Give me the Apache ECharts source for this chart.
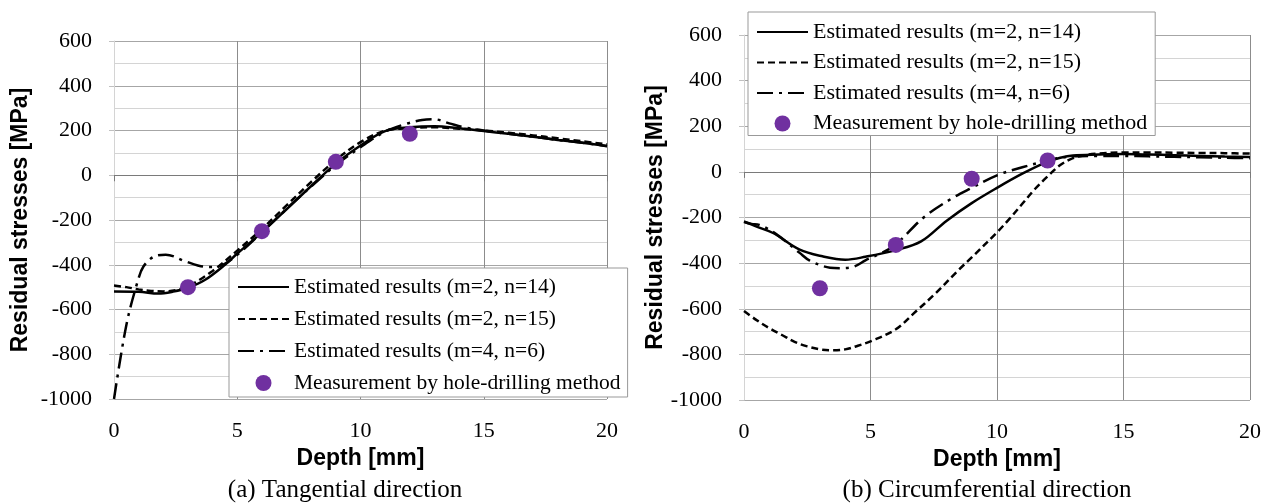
<!DOCTYPE html>
<html>
<head>
<meta charset="utf-8">
<script src="https://cdn.jsdelivr.net/npm/echarts@6/dist/echarts.min.js"></script>
<style>
  html, body { margin: 0; padding: 0; background: #fff; }
  #chart { width: 1272px; height: 503px; }
</style>
</head>
<body>
<div id="chart"></div>
<script>
// series names (legend)
const names = [
  'Estimated results (m=2, n=14)',
  'Estimated results (m=2, n=15)',
  'Estimated results (m=4, n=6)',
  'Measurement by hole-drilling method'
];

// (a) tangential direction  [depth mm, stress MPa]
const tanM2N14 = [[0,-520],[1,-521],[1.8,-529],[2.4,-520],[3,-503],[3.7,-467],[4.5,-400],[5,-350],[6,-255],[7,-152],[8,-48],[9,52],[10,133],[11,197],[12,214],[13,219],[14,210],[15,198],[16,185],[17,172],[18,158],[19,145],[20,131]];
const tanM2N15 = [[0,-493],[0.5,-500],[1,-510],[1.5,-517],[2,-519],[2.5,-514],[3,-497],[4,-428],[5,-337],[6,-240],[7,-135],[8,-30],[9,68],[10,148],[11,199],[12,211],[13,215],[14,208],[15,200],[16,190],[17,178],[18,165],[19,152],[20,138]];
const tanM4N6 = [[0,-1000],[0.5,-670],[0.95,-478],[1.2,-407],[1.65,-362],[2.1,-355],[2.9,-385],[3.4,-403],[3.8,-410],[4.3,-405],[5,-355],[6,-255],[7,-150],[8,-50],[9,45],[10,125],[11,195],[11.8,228],[12.5,247],[13,250],[13.6,232],[14.2,214],[15,200],[16,185],[17,172],[18,158],[19,145],[20,130]];

// (b) circumferential direction
const circM2N14 = [[0,-217],[0.5,-240],[1.15,-268],[2.2,-341],[3.1,-370],[4,-385],[4.8,-372],[6,-343],[7,-305],[8,-215],[9,-137],[10,-70],[11,-8],[12,45],[12.5,62],[13,72],[14,76],[15,78],[16,76],[17,73],[18,70],[19,67],[20,65]];
const circM2N15 = [[0,-610],[0.5,-650],[1,-685],[1.5,-715],[2,-745],[2.5,-765],[3,-778],[3.5,-782],[4,-778],[4.5,-762],[5,-743],[6,-690],[6.8,-611],[7.5,-540],[8.5,-428],[9,-375],[10,-265],[10.5,-205],[11,-140],[11.5,-75],[12,-20],[12.5,30],[13,60],[13.5,74],[14,80],[15,85],[16,85],[17,84],[18,83],[19,82],[20,80]];
const circM4N6 = [[0,-220],[0.3,-228],[0.6,-232],[1.3,-275],[2.2,-355],[2.6,-389],[3.4,-420],[3.8,-422],[4.3,-417],[4.8,-388],[5.9,-326],[7.1,-200],[8.25,-114],[9,-70],[10,-15],[11,20],[12,50],[12.5,62],[13,68],[14,70],[15,70],[16,68],[17,66],[18,64],[19,62],[20,60]];

// hole-drilling measurements
const measureDepth = [3, 6, 9, 12];
const tanMeasured = [-500, -250, 60, 185];
const circMeasured = [-510, -320, -30, 50];

const depthTicks = [0, 20, 5];       // min, max, interval
const stressTicks = [-1000, 600, 200];

const serif = 'Liberation Serif';
const sans = 'Liberation Sans';

const lineTypes = ['solid', [7, 4], [16, 6, 3, 6]];

function lineSeries(i, data, idx) {
  return {
    name: names[i],
    type: 'line',
    xAxisIndex: idx * 2,
    yAxisIndex: idx,
    data: data,
    smooth: 0.35,
    symbol: 'none',
    lineStyle: { color: '#000', width: 2.5, type: lineTypes[i] },
    itemStyle: { color: '#000' },
    z: 3
  };
}

function pointSeries(vals, idx) {
  return {
    name: names[3],
    type: 'scatter',
    xAxisIndex: idx * 2,
    yAxisIndex: idx,
    data: measureDepth.map((d, k) => [d, vals[k]]),
    symbol: 'circle',
    symbolSize: 16,
    itemStyle: { color: '#7030A0', opacity: 1 },
    z: 5
  };
}

function xAxes(gridIndex) {
  return [
    {
      type: 'value', gridIndex: gridIndex,
      min: depthTicks[0], max: depthTicks[1], interval: depthTicks[2],
      position: 'bottom',
      name: 'Depth [mm]', nameLocation: 'middle', nameGap: 48,
      nameTextStyle: { fontFamily: sans, fontWeight: 'bold', fontSize: 23, color: '#000' },
      axisLine: { show: false, onZero: false },
      axisTick: { show: false },
      axisLabel: { fontFamily: serif, fontSize: 22, color: '#000', margin: 21 },
      splitLine: { show: true, lineStyle: { color: ['#d4d4d4', '#8c8c8c', '#8c8c8c', '#8c8c8c', '#8c8c8c'], width: 1 } }
    },
    {
      type: 'value', gridIndex: gridIndex,
      min: depthTicks[0], max: depthTicks[1], interval: depthTicks[2],
      position: 'bottom',
      axisLine: { show: true, onZero: true, lineStyle: { color: '#7a7a7a', width: 1 } },
      axisTick: { show: true, length: 6, lineStyle: { color: '#7a7a7a' } },
      axisLabel: { show: false },
      splitLine: { show: false }
    }
  ];
}

function yAxis(gridIndex, gap) {
  return {
    type: 'value', gridIndex: gridIndex,
    min: stressTicks[0], max: stressTicks[1], interval: stressTicks[2],
    name: 'Residual stresses [MPa]', nameLocation: 'middle', nameGap: gap,
    nameTextStyle: { fontFamily: sans, fontWeight: 'bold', fontSize: 23, color: '#000' },
    axisLine: { show: true, lineStyle: { color: '#d4d4d4' } },
    axisTick: { show: true, length: 5, lineStyle: { color: '#c0c0c0' } },
    axisLabel: { fontFamily: serif, fontSize: 22, color: '#000', margin: 22, formatter: v => String(v) },
    splitLine: { show: true, lineStyle: { color: '#a6a6a6', width: 1 } },
    minorTick: { show: false, splitNumber: 2 },
    minorSplitLine: { show: true, lineStyle: { color: '#d4d4d4', width: 1 } }
  };
}

function legend(left, top, gap, fontSize, padding) {
  return {
    left: left, top: top,
    orient: 'vertical',
    data: names.map((n, k) => k < 3 ? { name: n, itemStyle: { opacity: 0 } } : { name: n }),
    itemWidth: 51, itemHeight: 16, itemGap: gap,
    padding: padding,
    backgroundColor: '#fff',
    borderColor: '#999', borderWidth: 1, borderRadius: 0,
    textStyle: { fontFamily: serif, fontSize: fontSize, lineHeight: 22, color: '#000' },
    selectedMode: false,
    z: 10
  };
}

const chart = echarts.init(document.getElementById('chart'));
chart.setOption({
  animation: false,
  backgroundColor: '#fff',
  grid: [
    { left: 114, top: 41, width: 493, height: 358 },
    { left: 744, top: 35, width: 506, height: 365 }
  ],
  xAxis: [...xAxes(0), ...xAxes(1)],
  yAxis: [yAxis(0, 82), yAxis(1, 76)],
  legend: [
    legend(229, 268, 10, 21.5, [8, 7, 3, 8]),
    legend(748, 12, 8.5, 22, [9, 8, 1, 8])
  ],
  graphic: [
    { type: 'text', x: 345, y: 490, style: { text: '(a) Tangential direction', fontFamily: serif, fontSize: 25, fill: '#000', textAlign: 'center', textVerticalAlign: 'middle' } },
    { type: 'text', x: 987, y: 490, style: { text: '(b) Circumferential direction', fontFamily: serif, fontSize: 25, fill: '#000', textAlign: 'center', textVerticalAlign: 'middle' } }
  ],
  series: [
    lineSeries(0, tanM2N14, 0),
    lineSeries(1, tanM2N15, 0),
    lineSeries(2, tanM4N6, 0),
    pointSeries(tanMeasured, 0),
    lineSeries(0, circM2N14, 1),
    lineSeries(1, circM2N15, 1),
    lineSeries(2, circM4N6, 1),
    pointSeries(circMeasured, 1)
  ]
});
</script>
</body>
</html>
